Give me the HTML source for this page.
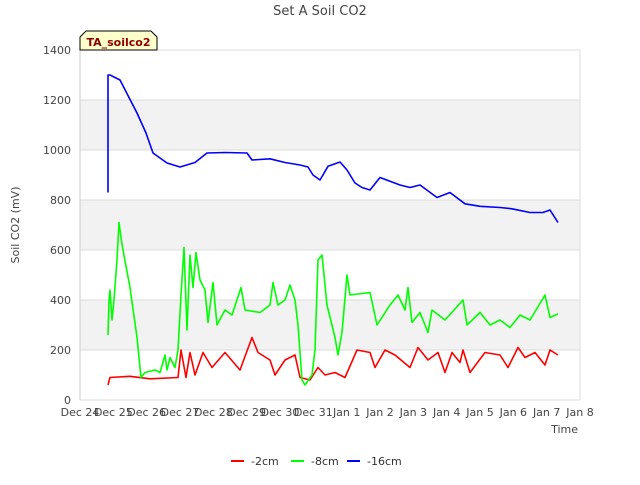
<!DOCTYPE html>
<html><head><meta charset="utf-8"><style>
body{margin:0;background:#fff;font-family:"Liberation Sans","DejaVu Sans",sans-serif}
svg text{font-family:"DejaVu Sans","Liberation Sans",sans-serif}
</style></head><body>
<svg id="c" width="640" height="480">
<text x="320" y="15" text-anchor="middle" font-size="13" fill="#444">Set A Soil CO2</text>
<g id="grid"></g><g id="series"></g><g id="axes"></g>
<text transform="translate(19,225) rotate(-90)" text-anchor="middle" font-size="11" fill="#444">Soil CO2 (mV)</text>
<text x="578" y="433" text-anchor="end" font-size="11" fill="#444">Time</text>
<g>
<path d="M80,37 L86,31 L151,31 L157,37 L157,50 L80,50 Z" fill="#ffffcc" stroke="#000" stroke-width="1"/>
<text x="118.5" y="46" text-anchor="middle" font-size="11" font-weight="bold" fill="#8b0000">TA_soilco2</text></g>
<g>
<g><line x1="231" y1="461" x2="244" y2="461" stroke="#f00" stroke-width="2"/><text x="251" y="465" font-size="11" fill="#333">-2cm</text></g>
<g><line x1="291" y1="461" x2="304" y2="461" stroke="#0f0" stroke-width="2"/><text x="311" y="465" font-size="11" fill="#333">-8cm</text></g>
<g><line x1="347" y1="461" x2="360" y2="461" stroke="#00f" stroke-width="2"/><text x="367" y="465" font-size="11" fill="#333">-16cm</text></g>
</g>
</svg>
<script>
const xTickLabels=["Dec 24","Dec 25","Dec 26","Dec 27","Dec 28","Dec 29","Dec 30","Dec 31","Jan 1","Jan 2","Jan 3","Jan 4","Jan 5","Jan 6","Jan 7","Jan 8"];
const yTicks=[0,200,400,600,800,1000,1200,1400];
const blueT=[0.84,0.84,0.9,1.2,1.71,1.98,2.19,2.61,3.0,3.45,3.81,4.35,5.01,5.16,5.7,6.15,6.6,6.84,6.99,7.2,7.44,7.8,8.01,8.25,8.46,8.7,9.0,9.6,9.9,10.2,10.71,11.1,11.55,12.0,12.6,12.96,13.5,13.89,14.1,14.34];
const blueV=[830,1300,1300,1280,1148,1068,988,948,932,950,988,990,988,960,965,950,940,932,900,880,935,952,920,868,850,840,890,860,850,860,810,830,785,775,770,765,750,750,760,710];
const greenT=[0.84,0.87,0.9,0.96,1.02,1.11,1.17,1.23,1.29,1.5,1.71,1.83,1.95,2.25,2.4,2.55,2.61,2.7,2.85,2.94,3.03,3.12,3.21,3.3,3.39,3.48,3.6,3.75,3.84,3.99,4.11,4.35,4.56,4.83,4.95,5.4,5.7,5.79,5.94,6.15,6.3,6.45,6.54,6.66,6.75,6.96,7.05,7.14,7.26,7.41,7.65,7.74,7.86,8.01,8.1,8.7,8.91,9.3,9.54,9.75,9.84,9.96,10.2,10.44,10.56,10.95,11.49,11.61,12.0,12.3,12.6,12.9,13.2,13.5,13.95,14.1,14.34];
const greenV=[260,400,440,320,400,560,710,650,600,450,250,90,110,120,110,180,120,170,130,200,420,610,280,580,450,590,480,440,310,470,300,360,340,450,360,350,380,470,380,400,460,400,300,80,60,100,200,560,580,380,250,180,270,500,420,430,300,380,420,360,450,310,350,270,360,320,400,300,350,300,320,290,340,320,420,330,345];
const redT=[0.84,0.9,1.5,2.1,2.94,3.03,3.18,3.3,3.45,3.69,3.96,4.35,4.8,5.16,5.34,5.7,5.85,6.15,6.45,6.6,6.9,7.14,7.35,7.65,7.95,8.31,8.7,8.85,9.15,9.45,9.9,10.14,10.44,10.74,10.95,11.16,11.4,11.49,11.7,12.15,12.6,12.84,13.14,13.35,13.65,13.95,14.1,14.34];
const redV=[60,90,95,85,90,200,90,190,100,190,130,190,120,250,190,160,100,160,180,90,80,130,100,110,90,200,190,130,200,180,130,210,160,190,110,190,150,200,110,190,180,130,210,170,190,140,200,180];
const NS="http://www.w3.org/2000/svg";
const X0=80,X1=580,Y0=400,Y1=50;
const xS=t=>X0+t*(X1-X0)/15;
const yS=v=>Y0-v*(Y0-Y1)/1400;
function mk(tag,attrs,parent){const e=document.createElementNS(NS,tag);for(const k in attrs)e.setAttribute(k,attrs[k]);parent.appendChild(e);return e;}
const grid=document.getElementById('grid'),axes=document.getElementById('axes'),ser=document.getElementById('series');
for(let i=0;i<yTicks.length-1;i++){
 if(i%2===1){const r=mk('rect',{x:X0,y:yS(yTicks[i+1]),width:X1-X0,height:yS(yTicks[i])-yS(yTicks[i+1]),fill:'#f2f2f2'},grid);
 
 }
}
yTicks.forEach(v=>{
 const l=mk('line',{x1:X0,x2:X1,y1:yS(v),y2:yS(v),stroke:'#dcdcdc','stroke-width':1},grid);
 
 
 const t=mk('text',{x:X0-9,y:yS(v)+4,'text-anchor':'end','font-size':11,fill:'#444'},axes);t.textContent=v;
 
 
});
mk('line',{x1:X0,x2:X0,y1:Y1,y2:Y0,stroke:'#ccc'},axes);
mk('line',{x1:X1,x2:X1,y1:Y1,y2:Y0,stroke:'#ddd'},axes);
xTickLabels.forEach((s,i)=>{
 const t=mk('text',{x:xS(i),y:416,'text-anchor':'middle','font-size':11,fill:'#444'},axes);t.textContent=s;
 
 
});
function line(T,V,col,name){
 const p=mk('polyline',{points:T.map((t,i)=>xS(t).toFixed(1)+','+yS(V[i]).toFixed(1)).join(' '),fill:'none',stroke:col,'stroke-width':1.6,'stroke-linejoin':'round'},ser);
 
 
}
line(redT,redV,'#ff0000','series-2cm');
line(greenT,greenV,'#00ff00','series-8cm');
line(blueT,blueV,'#0000ff','series-16cm');
</script>
</body></html>
